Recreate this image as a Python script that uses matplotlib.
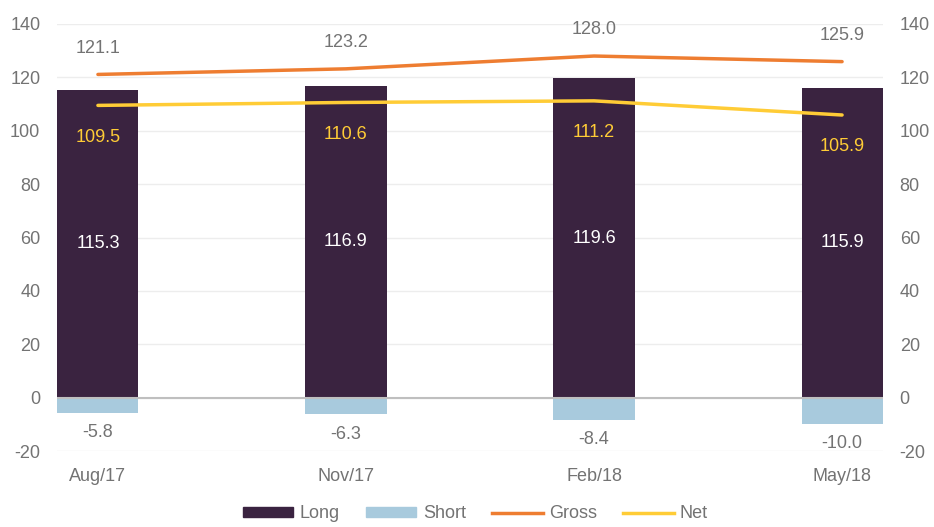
import numpy as np
import matplotlib.pyplot as plt
from matplotlib.lines import Line2D
from matplotlib.patches import Patch

plt.rcParams['font.family'] = ['Liberation Sans', 'DejaVu Sans']
plt.rcParams['axes.unicode_minus'] = False

dates = ['Aug/17', 'Nov/17', 'Feb/18', 'May/18']
long_pos = [115.3, 116.9, 119.6, 115.9]
short_pos = [-5.8, -6.3, -8.4, -10.0]
gross = [121.1, 123.2, 128.0, 125.9]
net = [109.5, 110.6, 111.2, 105.9]

c_long = '#3A2340'
c_short = '#A8CADD'
c_gross = '#EE7D31'
c_net = '#FFCC36'
c_text = '#737373'

fig = plt.figure(figsize=(9.34, 5.27), dpi=100)
ax = fig.add_axes([57/934, 1 - 451/527, (883-57)/934, (451-24)/527])
x = np.arange(len(dates))
w = 0.327
fs = 13

ax.bar(x, long_pos, w, color=c_long, zorder=2)
ax.bar(x, short_pos, w, color=c_short, zorder=2)
ax.plot(x, gross, color=c_gross, lw=2.5, zorder=3, solid_capstyle='round')
ax.plot(x, net, color=c_net, lw=2.5, zorder=3, solid_capstyle='round')
ax.axhline(0, color='#BFBFBF', lw=1.5, zorder=2.5)

for i in range(len(dates)):
    ax.annotate(f'{gross[i]:.1f}', (x[i], gross[i]), xytext=(0, 19), textcoords='offset points',
                ha='center', va='center', fontsize=fs, color=c_text)
    ax.annotate(f'{net[i]:.1f}', (x[i], net[i]), xytext=(0, -23), textcoords='offset points',
                ha='center', va='center', fontsize=fs, color=c_net)
    ax.text(x[i], long_pos[i] / 2, f'{long_pos[i]:.1f}', ha='center', va='center',
            fontsize=fs, color='white', zorder=4)
    ax.annotate(f'{short_pos[i]:.1f}', (x[i], short_pos[i]), xytext=(0, -8), textcoords='offset points',
                ha='center', va='top', fontsize=fs, color=c_text)

ax.set_ylim(-20, 140)
ax.set_yticks(range(-20, 141, 20))
ax.set_xlim(-0.165, 3.165)
ax.set_xticks(x)
ax.set_xticklabels(dates)
ax.grid(axis='y', color='#EDEDED', lw=1, zorder=0)
ax.set_axisbelow(True)
for s in ax.spines.values():
    s.set_visible(False)
ax.tick_params(axis='both', length=0, labelsize=fs, colors=c_text)
ax.tick_params(axis='x', pad=12)
ax.tick_params(axis='y', pad=12)

ax2 = ax.twinx()
ax2.set_ylim(-20, 140)
ax2.set_yticks(range(-20, 141, 20))
for s in ax2.spines.values():
    s.set_visible(False)
ax2.tick_params(axis='y', length=0, labelsize=fs, colors=c_text, pad=12)

handles = [Patch(color=c_long), Patch(color=c_short),
           Line2D([0], [0], color=c_gross, lw=2.5), Line2D([0], [0], color=c_net, lw=2.5)]
fig.legend(handles, ['Long', 'Short', 'Gross', 'Net'], loc='lower center', ncol=4,
           bbox_to_anchor=(0.509, -0.022), frameon=False, fontsize=fs, labelcolor=c_text,
           handlelength=2.8, handleheight=0.5, columnspacing=1.45, handletextpad=0.35)

fig.savefig('out.png', dpi=100)
